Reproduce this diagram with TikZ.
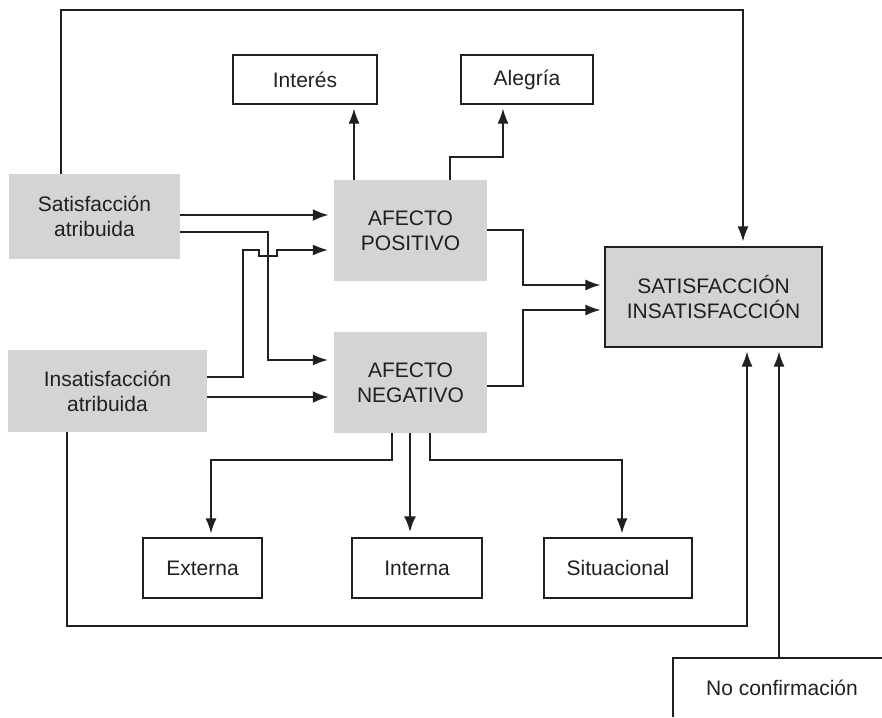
\documentclass[tikz,border=0pt]{standalone}
\usepackage{fontspec}
\setmainfont{Liberation Sans}
\usetikzlibrary{arrows.meta}
\definecolor{ink}{HTML}{231F20}
\definecolor{panel}{HTML}{D3D4D6}
\begin{document}
\begin{tikzpicture}[x=1pt,y=-1pt,
  every node/.style={inner sep=0pt, align=center, text=ink,
    font=\fontsize{21}{25}\selectfont},
  whitebox/.style={draw=ink, line width=1.3pt, fill=white},
  graybox/.style={fill=panel},
  mainbox/.style={draw=ink, line width=1.3pt, fill=panel},
  link/.style={draw=ink, line width=1.3pt, -{Latex[length=15pt,width=11pt]}, shorten >=4pt},
  thicklink/.style={draw=ink, line width=2.6pt, -{Latex[length=16pt,width=12pt]}, shorten >=5pt},
  plain/.style={draw=ink, line width=1.3pt}]
\useasboundingbox (0,0) rectangle (882,717);

% boxes
\node[whitebox, minimum width=144pt, minimum height=49pt] (interes) at (305,79.5) {Interés};
\node[whitebox, minimum width=132pt, minimum height=49pt] (alegria) at (527,79.5) {Alegría};
\node[graybox, minimum width=171pt, minimum height=85pt] (satatr) at (94.5,216.5) {Satisfacción\\atribuida};
\node[graybox, minimum width=199pt, minimum height=82pt] (insatatr) at (107.5,391) {Insatisfacción\\atribuida};
\node[graybox, minimum width=153pt, minimum height=101pt] (apos) at (410.5,230.5) {AFECTO\\POSITIVO};
\node[graybox, minimum width=153pt, minimum height=101pt] (aneg) at (410.5,382.5) {AFECTO\\NEGATIVO};
\node[mainbox, minimum width=217pt, minimum height=100pt] (satis) at (713.5,297) {SATISFACCIÓN\\INSATISFACCIÓN};
\node[whitebox, minimum width=119pt, minimum height=60pt] (externa) at (202.5,568) {Externa};
\node[whitebox, minimum width=130pt, minimum height=60pt] (interna) at (417,568) {Interna};
\node[whitebox, minimum width=148pt, minimum height=60pt] (situ) at (618,568) {Situacional};

% open frame of the disconfirmation input
\coordinate (ncbl) at (673,717);
\coordinate (nctl) at (673,658);
\coordinate (nctr) at (882,658);
\draw[plain] (ncbl) -- (nctl) -- (nctr);
\node (noconf) at (782,688) {No confirmación};
\coordinate (ncout) at (779,658);

% feedback loops
\draw[link, shorten >=5pt] (satatr.north -| 61,0) -- (61,10) -- (743,10) -- (743,0 |- satis.north);
\draw[link] (insatatr.south -| 67,0) -- (67,626) -- (747,626) -- (747,0 |- satis.south);
\draw[link] (ncout) -- (779,0 |- satis.south);

% positive affect outputs
\draw[link] (354,0 |- apos.north) -- (354,0 |- interes.south);
\draw[link] (450,0 |- apos.north) -- (450,157) -- (503,157) -- (503,0 |- alegria.south);

% attributions into affect
\draw[thicklink] (satatr.east |- 0,215) -- (apos.west |- 0,215);
\draw[link, shorten >=6pt] (satatr.east |- 0,232) -- (268,232) -- (268,360) -- (aneg.west |- 0,360);
\draw[link, shorten >=6pt] (insatatr.east |- 0,377) -- (243,377) -- (243,250) -- (259,250) -- (259,256)
  -- (277,256) -- (277,250) -- (apos.west |- 0,250);
\draw[thicklink] (insatatr.east |- 0,397) -- (aneg.west |- 0,397);

% affect into satisfaction
\draw[link] (apos.east |- 0,230) -- (523,230) -- (523,285) -- (satis.west |- 0,285);
\draw[link] (aneg.east |- 0,386) -- (523,386) -- (523,310) -- (satis.west |- 0,310);

% negative affect attributions
\draw[link] (392,0 |- aneg.south) -- (392,460) -- (211,460) -- (211,0 |- externa.north);
\draw[thicklink] (410,0 |- aneg.south) -- (410,0 |- interna.north);
\draw[link] (430,0 |- aneg.south) -- (430,460) -- (622,460) -- (622,0 |- situ.north);
\end{tikzpicture}
\end{document}
